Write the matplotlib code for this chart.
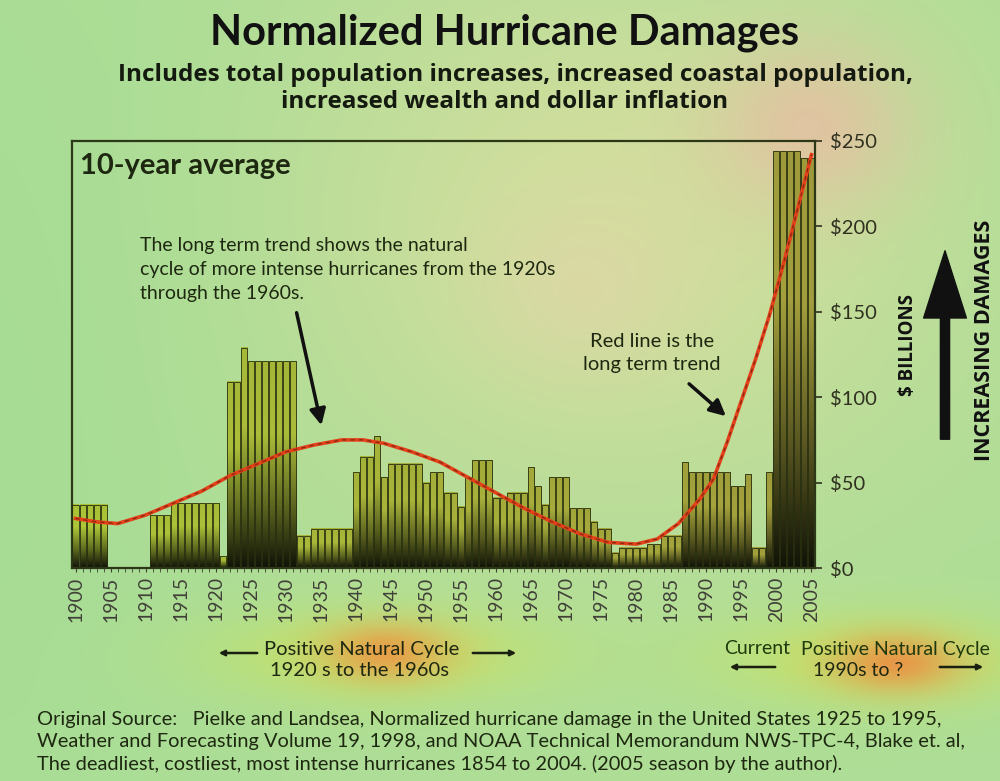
import numpy as np
import matplotlib.pyplot as plt
from matplotlib.colors import LinearSegmentedColormap
from matplotlib.patches import FancyArrowPatch

# 10-year average normalized damages, $ billions, one value per year
years = list(range(1900, 2006))
damages = [
    37, 37, 37, 37, 37, 0, 0, 0, 0, 0,            # 1900-1909
    0, 31, 31, 31, 38, 38, 38, 38, 38, 38,        # 1910-1919
    38, 7, 109, 109, 129, 121, 121, 121, 121, 121,  # 1920-1929
    121, 121, 19, 19, 23, 23, 23, 23, 23, 23,     # 1930-1939
    56, 65, 65, 77, 53, 61, 61, 61, 61, 61,       # 1940-1949
    50, 56, 56, 44, 44, 36, 53, 63, 63, 63,       # 1950-1959
    41, 41, 44, 44, 44, 59, 48, 37, 53, 53,       # 1960-1969
    53, 35, 35, 35, 27, 23, 23, 9, 12, 12,        # 1970-1979
    12, 12, 14, 14, 19, 19, 19, 62, 56, 56,       # 1980-1989
    56, 56, 56, 56, 48, 48, 55, 12, 12, 56,       # 1990-1999
    244, 244, 244, 244, 240, 240,                 # 2000-2005
]

# long term trend (red line), read at selected years
trend_years = [1900, 1903, 1906, 1910, 1914, 1918, 1922, 1926, 1930, 1934,
               1938, 1941, 1944, 1948, 1952, 1956, 1960, 1964, 1968, 1972,
               1976, 1980, 1983, 1986, 1989, 1991, 1993, 1995, 1997, 1999,
               2001, 2003, 2005]
trend_vals = [29, 27, 26, 31, 38, 45, 54, 61, 68, 72,
              75, 75, 73, 68, 62, 53, 44, 35, 27, 20,
              15, 14, 17, 26, 40, 52, 74, 98, 122, 148,
              178, 210, 242]

ytick_vals = [0, 50, 100, 150, 200, 250]
ytick_labels = ['$0', '$50', '$100', '$150', '$200', '$250']
xtick_vals = list(range(1900, 2006, 5))

W, H = 1000, 781
TXT = '#1e2810'


def fx(x):
    return x / W


def fy(y):
    return 1 - y / H


fig = plt.figure(figsize=(10, 7.81), dpi=100)

# ---- blurry background wash ----
gx, gy = np.meshgrid(np.arange(W), np.arange(H))
img = np.ones((H, W, 3)) * np.array([0.68, 0.87, 0.59])


def blob(cx, cy, sx, sy, color, a):
    global img
    w = a * np.exp(-((gx - cx) ** 2 / (2 * sx ** 2) + (gy - cy) ** 2 / (2 * sy ** 2)))
    img = img * (1 - w[..., None]) + np.array(color) * w[..., None]


blob(620, 220, 240, 200, (0.84, 0.87, 0.62), 0.9)
blob(580, 290, 70, 60, (0.89, 0.83, 0.67), 0.5)
blob(810, 125, 70, 60, (0.91, 0.74, 0.64), 0.75)
blob(370, 655, 120, 32, (0.80, 0.90, 0.35), 0.75)
blob(385, 652, 45, 20, (0.93, 0.58, 0.26), 0.85)
blob(880, 660, 110, 32, (0.80, 0.90, 0.35), 0.75)
blob(895, 662, 45, 20, (0.93, 0.55, 0.26), 0.85)
blob(0, 400, 150, 400, (0.64, 0.86, 0.58), 0.6)

bg = fig.add_axes([0, 0, 1, 1], zorder=-10)
bg.imshow(np.clip(img, 0, 1), extent=[0, W, H, 0], aspect='auto')
bg.axis('off')

# ---- main chart ----
ax = fig.add_axes([fx(72), fy(568), fx(815) - fx(72), fy(141) - fy(568)])
ax.set_facecolor('none')

green_top = np.array([0.68, 0.78, 0.22])
olive_top = np.array([0.64, 0.62, 0.24])
bw = 0.86
for yr, h in zip(years, damages):
    if h <= 0:
        continue
    t = (yr - 1900) / 105
    top = green_top * (1 - t) + olive_top * t
    cmap = LinearSegmentedColormap.from_list(
        'b', [(0.0, (0.07, 0.08, 0.03)), (0.3, top * 0.55), (0.65, top), (1.0, top * 0.97)])
    grad = np.linspace(1, 0, 64)[:, None]
    ax.imshow(grad, cmap=cmap, extent=[yr - bw / 2, yr + bw / 2, 0, h],
              aspect='auto', interpolation='bilinear', zorder=2)
    ax.bar(yr, h, width=bw, facecolor='none', edgecolor='#283010', linewidth=0.6, zorder=3)
ax.set_xlim(1899.5, 2005.5)
ax.set_ylim(0, 250)

ax.plot(trend_years, trend_vals, color='#e4401a', lw=2.6, zorder=4)
ax.plot(trend_years, trend_vals, color='#8a2a10', lw=1.0, ls=(0, (3, 3)), zorder=5)

ax.yaxis.tick_right()
ax.set_yticks(ytick_vals)
ax.set_yticklabels(ytick_labels, family='Lato', fontsize=14.5, color='#303020')
ax.set_xticks(xtick_vals)
ax.set_xticklabels([str(v) for v in xtick_vals], rotation=90, family='Lato',
                   fontsize=14, color='#404038')
ax.set_xticks(years, minor=True)
ax.tick_params(axis='x', which='both', length=3, color='#404030', pad=3)
ax.tick_params(axis='y', length=5, width=1.2, color='#303020', pad=6)
for s in ax.spines.values():
    s.set_color('#2c3818')
    s.set_linewidth(1.6)

ax.text(0.011, 0.972, '10-year average', transform=ax.transAxes, ha='left', va='top',
        family='Lato', fontweight='bold', fontsize=21, color=TXT)

# ---- titles ----
fig.text(fx(505), fy(33), 'Normalized Hurricane Damages', ha='center', va='center',
         family='Lato', fontweight='bold', fontsize=30, color='#111111')
fig.text(fx(515), fy(75), 'Includes total population increases, increased coastal population,',
         ha='center', va='center', family='Open Sans', fontweight='bold', fontsize=17.5, color='#151a10')
fig.text(fx(505), fy(102), 'increased wealth and dollar inflation',
         ha='center', va='center', family='Open Sans', fontweight='bold', fontsize=17.5, color='#151a10')

# ---- annotations ----
fig.text(fx(140), fy(270), 'The long term trend shows the natural\n'
         'cycle of more intense hurricanes from the 1920s\nthrough the 1960s.',
         ha='left', va='center', family='Lato', fontsize=14, color=TXT, linespacing=1.5)
fig.text(fx(652), fy(353), 'Red line is the\nlong term trend', ha='center', va='center',
         family='Lato', fontsize=14.5, color=TXT, linespacing=1.45)

arrow_kw = dict(arrowstyle='-|>', color='#111111', lw=2.5, mutation_scale=24)
fig.patches.append(FancyArrowPatch(
    (fx(296), fy(310)), (fx(322), fy(428)), transform=fig.transFigure, **arrow_kw))
fig.patches.append(FancyArrowPatch(
    (fx(687), fy(382)), (fx(728), fy(418)), transform=fig.transFigure, **arrow_kw))

# ---- right side labels ----
fig.text(fx(908), fy(345), '$ BILLIONS', rotation=90, ha='center', va='center',
         family='Open Sans', fontweight='bold', fontsize=13.5, color='#111111')
fig.text(fx(985), fy(340), 'INCREASING DAMAGES', rotation=90, ha='center', va='center',
         family='Open Sans', fontweight='bold', fontsize=15.5, color='#111111')
fig.patches.append(FancyArrowPatch(
    (fx(945), fy(442)), (fx(945), fy(248)), transform=fig.transFigure,
    arrowstyle='simple,head_width=1.4,head_length=2.2,tail_width=0.3',
    color='#111111', mutation_scale=22))

# ---- natural cycle notes ----
fig.text(fx(362), fy(649), 'Positive Natural Cycle', ha='center', va='center',
         family='Lato', fontsize=14.5, color=TXT)
fig.text(fx(360), fy(671), '1920 s to the 1960s', ha='center', va='center',
         family='Lato', fontsize=14.5, color=TXT)
fig.text(fx(757), fy(649), 'Current', ha='center', va='center',
         family='Lato', fontsize=14, color='#1e3a0c')
fig.text(fx(895), fy(649), 'Positive Natural Cycle', ha='center', va='center',
         family='Lato', fontsize=14, color='#1e3a0c')
fig.text(fx(858), fy(671), '1990s to ?', ha='center', va='center',
         family='Lato', fontsize=14, color=TXT)

small_kw = dict(arrowstyle='-|>', color='#1a2010', lw=1.8, mutation_scale=8)
for (x0, y0), (x1, y1) in [((260, 653), (216, 653)), ((470, 653), (519, 653)),
                           ((778, 667), (727, 667)), ((937, 667), (986, 667))]:
    fig.patches.append(FancyArrowPatch(
        (fx(x0), fy(y0)), (fx(x1), fy(y1)), transform=fig.transFigure, **small_kw))

# ---- source ----
fig.text(fx(37), fy(742),
         'Original Source:   Pielke and Landsea, Normalized hurricane damage in the United States 1925 to 1995,\n'
         'Weather and Forecasting Volume 19, 1998, and NOAA Technical Memorandum NWS-TPC-4, Blake et. al,\n'
         'The deadliest, costliest, most intense hurricanes 1854 to 2004. (2005 season by the author).',
         ha='left', va='center', family='Lato', fontsize=14.4, color=TXT, linespacing=1.35)

fig.savefig('out.png', dpi=100)
